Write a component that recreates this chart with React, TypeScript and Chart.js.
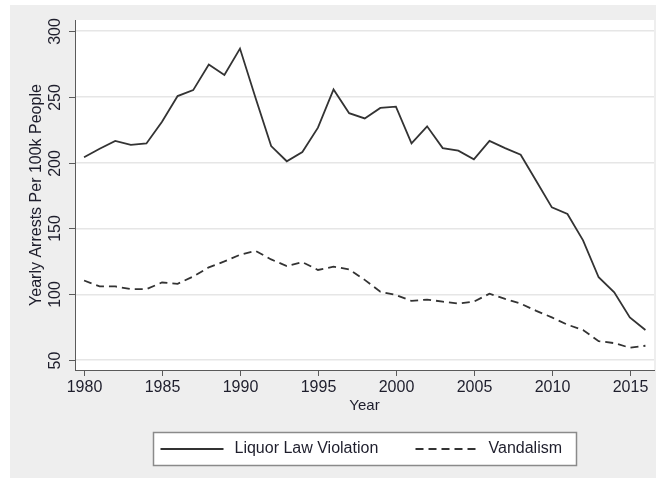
import { useEffect, useRef } from "react";
import { Chart, registerables } from "chart.js";

Chart.register(...registerables);

const years = [
  1980, 1981, 1982, 1983, 1984, 1985, 1986, 1987, 1988, 1989,
  1990, 1991, 1992, 1993, 1994, 1995, 1996, 1997, 1998, 1999,
  2000, 2001, 2002, 2003, 2004, 2005, 2006, 2007, 2008, 2009,
  2010, 2011, 2012, 2013, 2014, 2015, 2016,
];

const liquorLaw = [
  204, 210.5, 216.5, 213.5, 214.5, 231, 250.5, 255, 274.5, 266.5,
  286.5, 249, 212.5, 201, 208, 226.5, 255.5, 237.5, 233.5, 241.5,
  242.5, 214.5, 227.5, 211, 209, 202.5, 216.5, 211, 206, 186,
  166, 161, 141, 113, 101.5, 82.5, 73,
];

const vandalism = [
  110.5, 106, 106, 104, 104, 109, 108, 113.5, 120.5, 125,
  130, 133, 126.5, 121.5, 124.5, 118.5, 121, 119, 111, 102,
  99.5, 95, 96, 94.5, 93, 94.5, 100.5, 96.5, 93, 87.5,
  82.5, 77, 73, 64.5, 63, 59.5, 61,
];

const seriesNames = ["Liquor Law Violation", "Vandalism"];
const xTickValues = [1980, 1985, 1990, 1995, 2000, 2005, 2010, 2015];
const yTickValues = [50, 100, 150, 200, 250, 300];
const xTitle = "Year";
const yTitle = "Yearly Arrests Per 100k People";

const FONT = "'Liberation Sans', Arial, sans-serif";
const TEXT = "#1e1e2c";
const AXIS = "#5a5a5a";
const LINE = "#333333";

const decor = {
  id: "decor",
  beforeDraw(chart: any) {
    const { ctx, chartArea: a, width, height } = chart;
    ctx.save();
    ctx.fillStyle = "#ffffff";
    ctx.fillRect(0, 0, width, height);
    ctx.fillStyle = "#eeeeee";
    ctx.fillRect(10, 5, width - 11, height - 7);
    ctx.fillStyle = "#ffffff";
    ctx.fillRect(a.left, a.top, a.right - a.left, a.bottom - a.top);
    ctx.restore();
  },
  afterDraw(chart: any) {
    const { ctx, chartArea: a } = chart;
    const xs = chart.scales.x;
    const ys = chart.scales.y;
    ctx.save();
    ctx.strokeStyle = AXIS;
    ctx.lineWidth = 1;
    ctx.fillStyle = TEXT;
    ctx.font = `16px ${FONT}`;
    ctx.textAlign = "center";
    ctx.textBaseline = "middle";
    // x ticks
    for (const t of xTickValues) {
      const px = Math.round(xs.getPixelForValue(t)) + 0.5;
      ctx.beginPath();
      ctx.moveTo(px, a.bottom);
      ctx.lineTo(px, a.bottom + 6);
      ctx.stroke();
      ctx.fillText(String(t), px, a.bottom + 18);
    }
    // y ticks
    for (const t of yTickValues) {
      const py = Math.round(ys.getPixelForValue(t)) + 0.5;
      ctx.beginPath();
      ctx.moveTo(a.left - 6, py);
      ctx.lineTo(a.left, py);
      ctx.stroke();
      ctx.save();
      ctx.translate(a.left - 19, py);
      ctx.rotate(-Math.PI / 2);
      ctx.fillText(String(t), 0, 0);
      ctx.restore();
    }
    // titles
    ctx.font = `15px ${FONT}`;
    ctx.fillText(xTitle, (a.left + a.right) / 2, a.bottom + 36);
    ctx.font = `16px ${FONT}`;
    ctx.save();
    ctx.translate(a.left - 38, (a.top + a.bottom) / 2);
    ctx.rotate(-Math.PI / 2);
    ctx.fillText(yTitle, 0, 0);
    ctx.restore();
    // legend
    const cx = (a.left + a.right) / 2;
    const lw = 423;
    const lx = Math.round(cx - lw / 2) + 0.5;
    const ly = 432.5;
    const lh = 33;
    ctx.fillStyle = "#ffffff";
    ctx.fillRect(lx, ly, lw, lh);
    ctx.strokeStyle = "#8a8a8a";
    ctx.lineWidth = 1.5;
    ctx.strokeRect(lx, ly, lw, lh);
    const my = ly + lh / 2;
    ctx.strokeStyle = LINE;
    ctx.lineWidth = 2;
    ctx.beginPath();
    ctx.moveTo(lx + 7, my);
    ctx.lineTo(lx + 70, my);
    ctx.stroke();
    ctx.setLineDash([8, 5]);
    ctx.beginPath();
    ctx.moveTo(lx + 262, my);
    ctx.lineTo(lx + 325, my);
    ctx.stroke();
    ctx.setLineDash([]);
    ctx.fillStyle = TEXT;
    ctx.textAlign = "left";
    ctx.font = `16px ${FONT}`;
    ctx.fillText(seriesNames[0], lx + 81, my);
    ctx.fillText(seriesNames[1], lx + 335, my);
    ctx.restore();
  },
};

export default function App() {
  const ref = useRef<HTMLCanvasElement | null>(null);
  useEffect(() => {
    if (!ref.current) return;
    const chart = new Chart(ref.current, {
      type: "line",
      data: {
        datasets: [
          {
            label: seriesNames[0],
            data: years.map((y, i) => ({ x: y, y: liquorLaw[i] })),
            borderColor: LINE,
            borderWidth: 1.8,
            pointRadius: 0,
            tension: 0,
            fill: false,
          },
          {
            label: seriesNames[1],
            data: years.map((y, i) => ({ x: y, y: vandalism[i] })),
            borderColor: LINE,
            borderWidth: 1.8,
            borderDash: [8, 5],
            pointRadius: 0,
            tension: 0,
            fill: false,
          },
        ],
      },
      options: {
        animation: false,
        responsive: false,
        devicePixelRatio: 1,
        layout: { padding: { left: 75, top: 20, right: 3, bottom: 102 } },
        plugins: { legend: { display: false }, tooltip: { enabled: false } },
        scales: {
          x: {
            type: "linear",
            min: 1979.42,
            max: 2016.55,
            ticks: { display: false },
            grid: { display: false },
            border: { display: true, color: AXIS, width: 1 },
          },
          y: {
            type: "linear",
            min: 42.6,
            max: 308.2,
            afterBuildTicks: (scale: any) => {
              scale.ticks = yTickValues.map((v) => ({ value: v }));
            },
            ticks: { display: false },
            grid: { color: "#e6e6e6", lineWidth: 1.5, drawTicks: false },
            border: { display: true, color: AXIS, width: 1 },
          },
        },
      },
      plugins: [decor],
    });
    return () => chart.destroy();
  }, []);
  return (
    <div style={{ position: "absolute", left: 0, top: 0, width: 657, height: 480 }}>
      <canvas ref={ref} width={657} height={480} />
    </div>
  );
}
